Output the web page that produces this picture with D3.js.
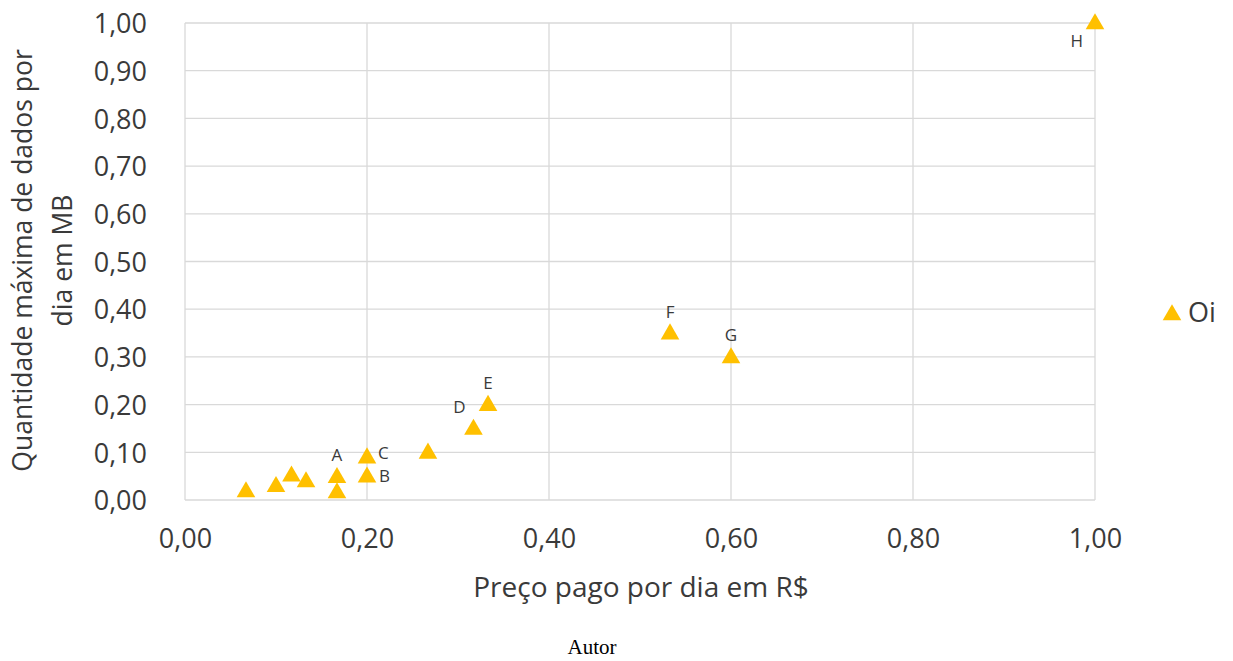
<!DOCTYPE html>
<html><head><meta charset="utf-8">
<script src="https://cdn.jsdelivr.net/npm/d3@7"></script>
<style>body{margin:0;background:#fff}svg{display:block}</style>
</head><body>
<script>
const priceX = [0.067,0.10,0.117,0.133,0.167,0.167,0.20,0.20,0.267,0.317,0.333,0.533,0.60,1.00];
const dataY  = [0.019,0.03,0.052,0.04,0.017,0.049,0.05,0.09,0.10,0.15,0.20,0.35,0.30,1.00];
const pointLabels = ["","","","","","A","B","C","","D","E","F","G","H"];
const labelPos = ["","","","","","top","rightdown","rightup","","left","top","top","top","belowleft"];
const xTicks = [0,0.2,0.4,0.6,0.8,1.0];
const yTicks = [0,0.1,0.2,0.3,0.4,0.5,0.6,0.7,0.8,0.9,1.0];
const seriesName = "Oi";
const xTitle = "Preço pago por dia em R$";
const yTitle = ["Quantidade máxima de dados por","dia em MB"];
const source = "Autor";

const W=1233,H=661;
const svg=d3.select("body").append("svg").attr("width",W).attr("height",H);
const x=d3.scaleLinear().domain([0,1]).range([185,1095]);
const y=d3.scaleLinear().domain([0,1]).range([500,23]);
const fmt=d=>d3.format(".2f")(d).replace(".",",");
const font="'Open Sans', sans-serif";
const grid="#d9d9d9";
const txt="#3a3a3a";

// gridlines
svg.append("g").selectAll("line").data(yTicks).join("line")
  .attr("x1",x(0)).attr("x2",x(1)).attr("y1",d=>y(d)).attr("y2",d=>y(d))
  .attr("stroke",grid).attr("stroke-width",1.3);
svg.append("g").selectAll("line").data(xTicks).join("line")
  .attr("x1",d=>x(d)).attr("x2",d=>x(d)).attr("y1",y(0)).attr("y2",y(1))
  .attr("stroke",grid).attr("stroke-width",1.3);

// axes (labels only)
const xAxis=svg.append("g").attr("transform",`translate(0,${y(0)})`)
  .call(d3.axisBottom(x).tickValues(xTicks).tickFormat(fmt).tickSize(0).tickPadding(39));
const yAxis=svg.append("g").attr("transform",`translate(${x(0)},0)`)
  .call(d3.axisLeft(y).tickValues(yTicks).tickFormat(fmt).tickSize(0).tickPadding(38));
[xAxis,yAxis].forEach(a=>{a.select(".domain").remove();
  a.selectAll("text").attr("font-family",font).attr("font-size",27).attr("fill",txt);});
yAxis.selectAll("text").attr("dy","0.36em");
xAxis.selectAll("text").attr("dy","0.35em");

// axis titles
svg.append("text").attr("x",x(0.5)+1).attr("y",590).attr("text-anchor","middle")
  .attr("dominant-baseline","middle").attr("font-family",font).attr("font-size",28)
  .attr("fill",txt).text(xTitle);
const yt=svg.append("g").attr("transform",`translate(0,${y(0.5)-1}) rotate(-90)`);
yTitle.forEach((t,i)=>yt.append("text").attr("x",0).attr("y",25+i*40)
  .attr("text-anchor","middle").attr("dominant-baseline","middle")
  .attr("font-family",font).attr("font-size",26.5).attr("fill",txt).text(t));

// markers
const tri=d3.symbol().type(d3.symbolTriangle).size(150);
const pts=priceX.map((v,i)=>({x:v,y:dataY[i],l:pointLabels[i],p:labelPos[i]}));
svg.append("g").selectAll("path").data(pts).join("path")
  .attr("d",tri).attr("transform",d=>`translate(${x(d.x)},${y(d.y)+1})`)
  .attr("fill","#FFC000");

// labels
const off={top:[0,-20,"middle"],rightup:[11,-3,"start"],rightdown:[12,1,"start"],
  left:[-8,-20,"end"],belowleft:[-12,19,"end"]};
svg.append("g").selectAll("text").data(pts.filter(d=>d.l)).join("text")
  .attr("x",d=>x(d.x)+off[d.p][0]).attr("y",d=>y(d.y)+off[d.p][1])
  .attr("text-anchor",d=>off[d.p][2]).attr("dominant-baseline","middle")
  .attr("font-family",font).attr("font-size",17).attr("fill",txt).text(d=>d.l);

// legend
svg.append("path").attr("d",tri).attr("transform","translate(1172,315)").attr("fill","#FFC000");
svg.append("text").attr("x",1188).attr("y",315).attr("dominant-baseline","middle")
  .attr("font-family",font).attr("font-size",27).attr("fill",txt).text(seriesName);

// source
svg.append("text").attr("x",592).attr("y",649).attr("text-anchor","middle")
  .attr("dominant-baseline","middle").attr("font-family","'Liberation Serif', serif")
  .attr("font-size",21).attr("fill","#000").text(source);
</script>
</body></html>
